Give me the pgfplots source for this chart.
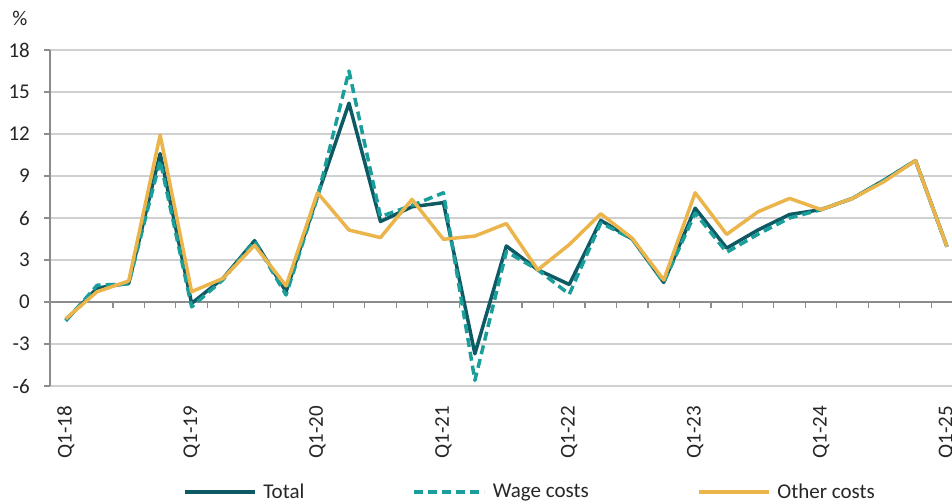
\documentclass[border=0pt]{standalone}
\usepackage{fontspec}
\setmainfont{Carlito}
\usepackage{pgfplots}
\pgfplotsset{compat=1.18}
\definecolor{totalc}{HTML}{0E5A64}
\definecolor{wagec}{HTML}{1A9E9A}
\definecolor{otherc}{HTML}{EBB54C}
\definecolor{gridc}{HTML}{D0D0D0}
\definecolor{axisc}{HTML}{8C8C8C}
\newcommand{\chartfont}{\fontsize{21}{24}\selectfont}
\begin{document}
\begin{tikzpicture}
\useasboundingbox (-50pt,-115pt) rectangle (902pt,386pt);
\begin{axis}[
  scale only axis, width=902pt, height=336pt,
  xmin=-0.5, xmax=28.16, ymin=-6, ymax=18,
  ytick={-6,-3,...,18},
  yticklabels={-6,-3,0,3,6,9,12,15,18},
  xtick={0,4,...,28},
  xticklabels={Q1-18,Q1-19,Q1-20,Q1-21,Q1-22,Q1-23,Q1-24,Q1-25},
  separate axis lines,
  axis x line*=bottom, axis y line*=left,
  x axis line style={draw=none},
  y axis line style={draw=axisc, line width=1.2pt},
  xtick style={draw=none},
  ytick style={draw=axisc, line width=1.2pt},
  tick align=outside, major tick length=6pt,
  ymajorgrids, grid style={gridc, line width=1.2pt},
  xticklabel style={rotate=90, anchor=east, inner sep=0pt, font=\chartfont, text=black!85},
  xticklabel shift=14pt,
  yticklabel style={inner sep=0pt, font=\chartfont, text=black!85},
  yticklabel shift=14pt,
  legend style={at={(axis description cs:0.532,0)}, anchor=center, yshift=-106pt,
    draw=none, fill=none, font=\chartfont, inner sep=0pt, text=black!85,
    /tikz/every odd column/.append style={column sep=5pt},
    /tikz/every even column/.append style={column sep=106pt}},
  legend columns=3,
  legend image code/.code={\draw[#1] (0pt,0pt) -- (70pt,0pt);},
]
\draw[axisc, line width=1.2pt] (axis cs:-0.5,0) -- (axis cs:28.16,0);
\pgfplotsinvokeforeach{0.5,1.5,2.5,3.5,4.5,5.5,6.5,7.5,8.5,9.5,10.5,11.5,12.5,13.5,14.5,15.5,16.5,17.5,18.5,19.5,20.5,21.5,22.5,23.5,24.5,25.5,26.5,27.5}{
  \draw[axisc, line width=1.2pt] (axis cs:#1,0) -- ++(0pt,-6pt);
}
\addplot[totalc, line width=3.5pt, line join=round] coordinates {
(0,-1.3) (1,1.0) (2,1.33) (3,10.6) (4,-0.1) (5,1.7) (6,4.38) (7,0.74)
(8,7.6) (9,14.2) (10,5.75) (11,6.8) (12,7.1) (13,-3.7) (14,4.0) (15,2.3)
(16,1.25) (17,5.83) (18,4.5) (19,1.4) (20,6.7) (21,3.85) (22,5.15) (23,6.25)
(24,6.6) (25,7.4) (26,8.7) (27,10.1) (28,3.95)};
\addlegendentry{Total}
\addplot[wagec, line width=3.5pt, dash pattern=on 9pt off 5pt, line join=round] coordinates {
(0,-1.35) (1,1.2) (2,1.3) (3,10.1) (4,-0.35) (5,1.6) (6,4.35) (7,0.5)
(8,7.5) (9,16.5) (10,6.1) (11,6.9) (12,7.8) (13,-5.6) (14,3.6) (15,2.3)
(16,0.55) (17,5.65) (18,4.5) (19,1.4) (20,6.35) (21,3.55) (22,4.85) (23,6.0)
(24,6.6) (25,7.4) (26,8.7) (27,10.1) (28,3.95)};
\addlegendentry{Wage costs}
\addplot[otherc, line width=3.5pt, line join=round] coordinates {
(0,-1.2) (1,0.74) (2,1.5) (3,11.93) (4,0.74) (5,1.69) (6,4.05) (7,1.15)
(8,7.8) (9,5.14) (10,4.6) (11,7.33) (12,4.48) (13,4.71) (14,5.6) (15,2.3)
(16,4.1) (17,6.3) (18,4.55) (19,1.57) (20,7.8) (21,4.83) (22,6.45) (23,7.4)
(24,6.6) (25,7.4) (26,8.6) (27,10.1) (28,3.95)};
\addlegendentry{Other costs}
\end{axis}
\node[font=\chartfont, text=black!85] at (-30pt,368pt) {\%};
\end{tikzpicture}
\end{document}
